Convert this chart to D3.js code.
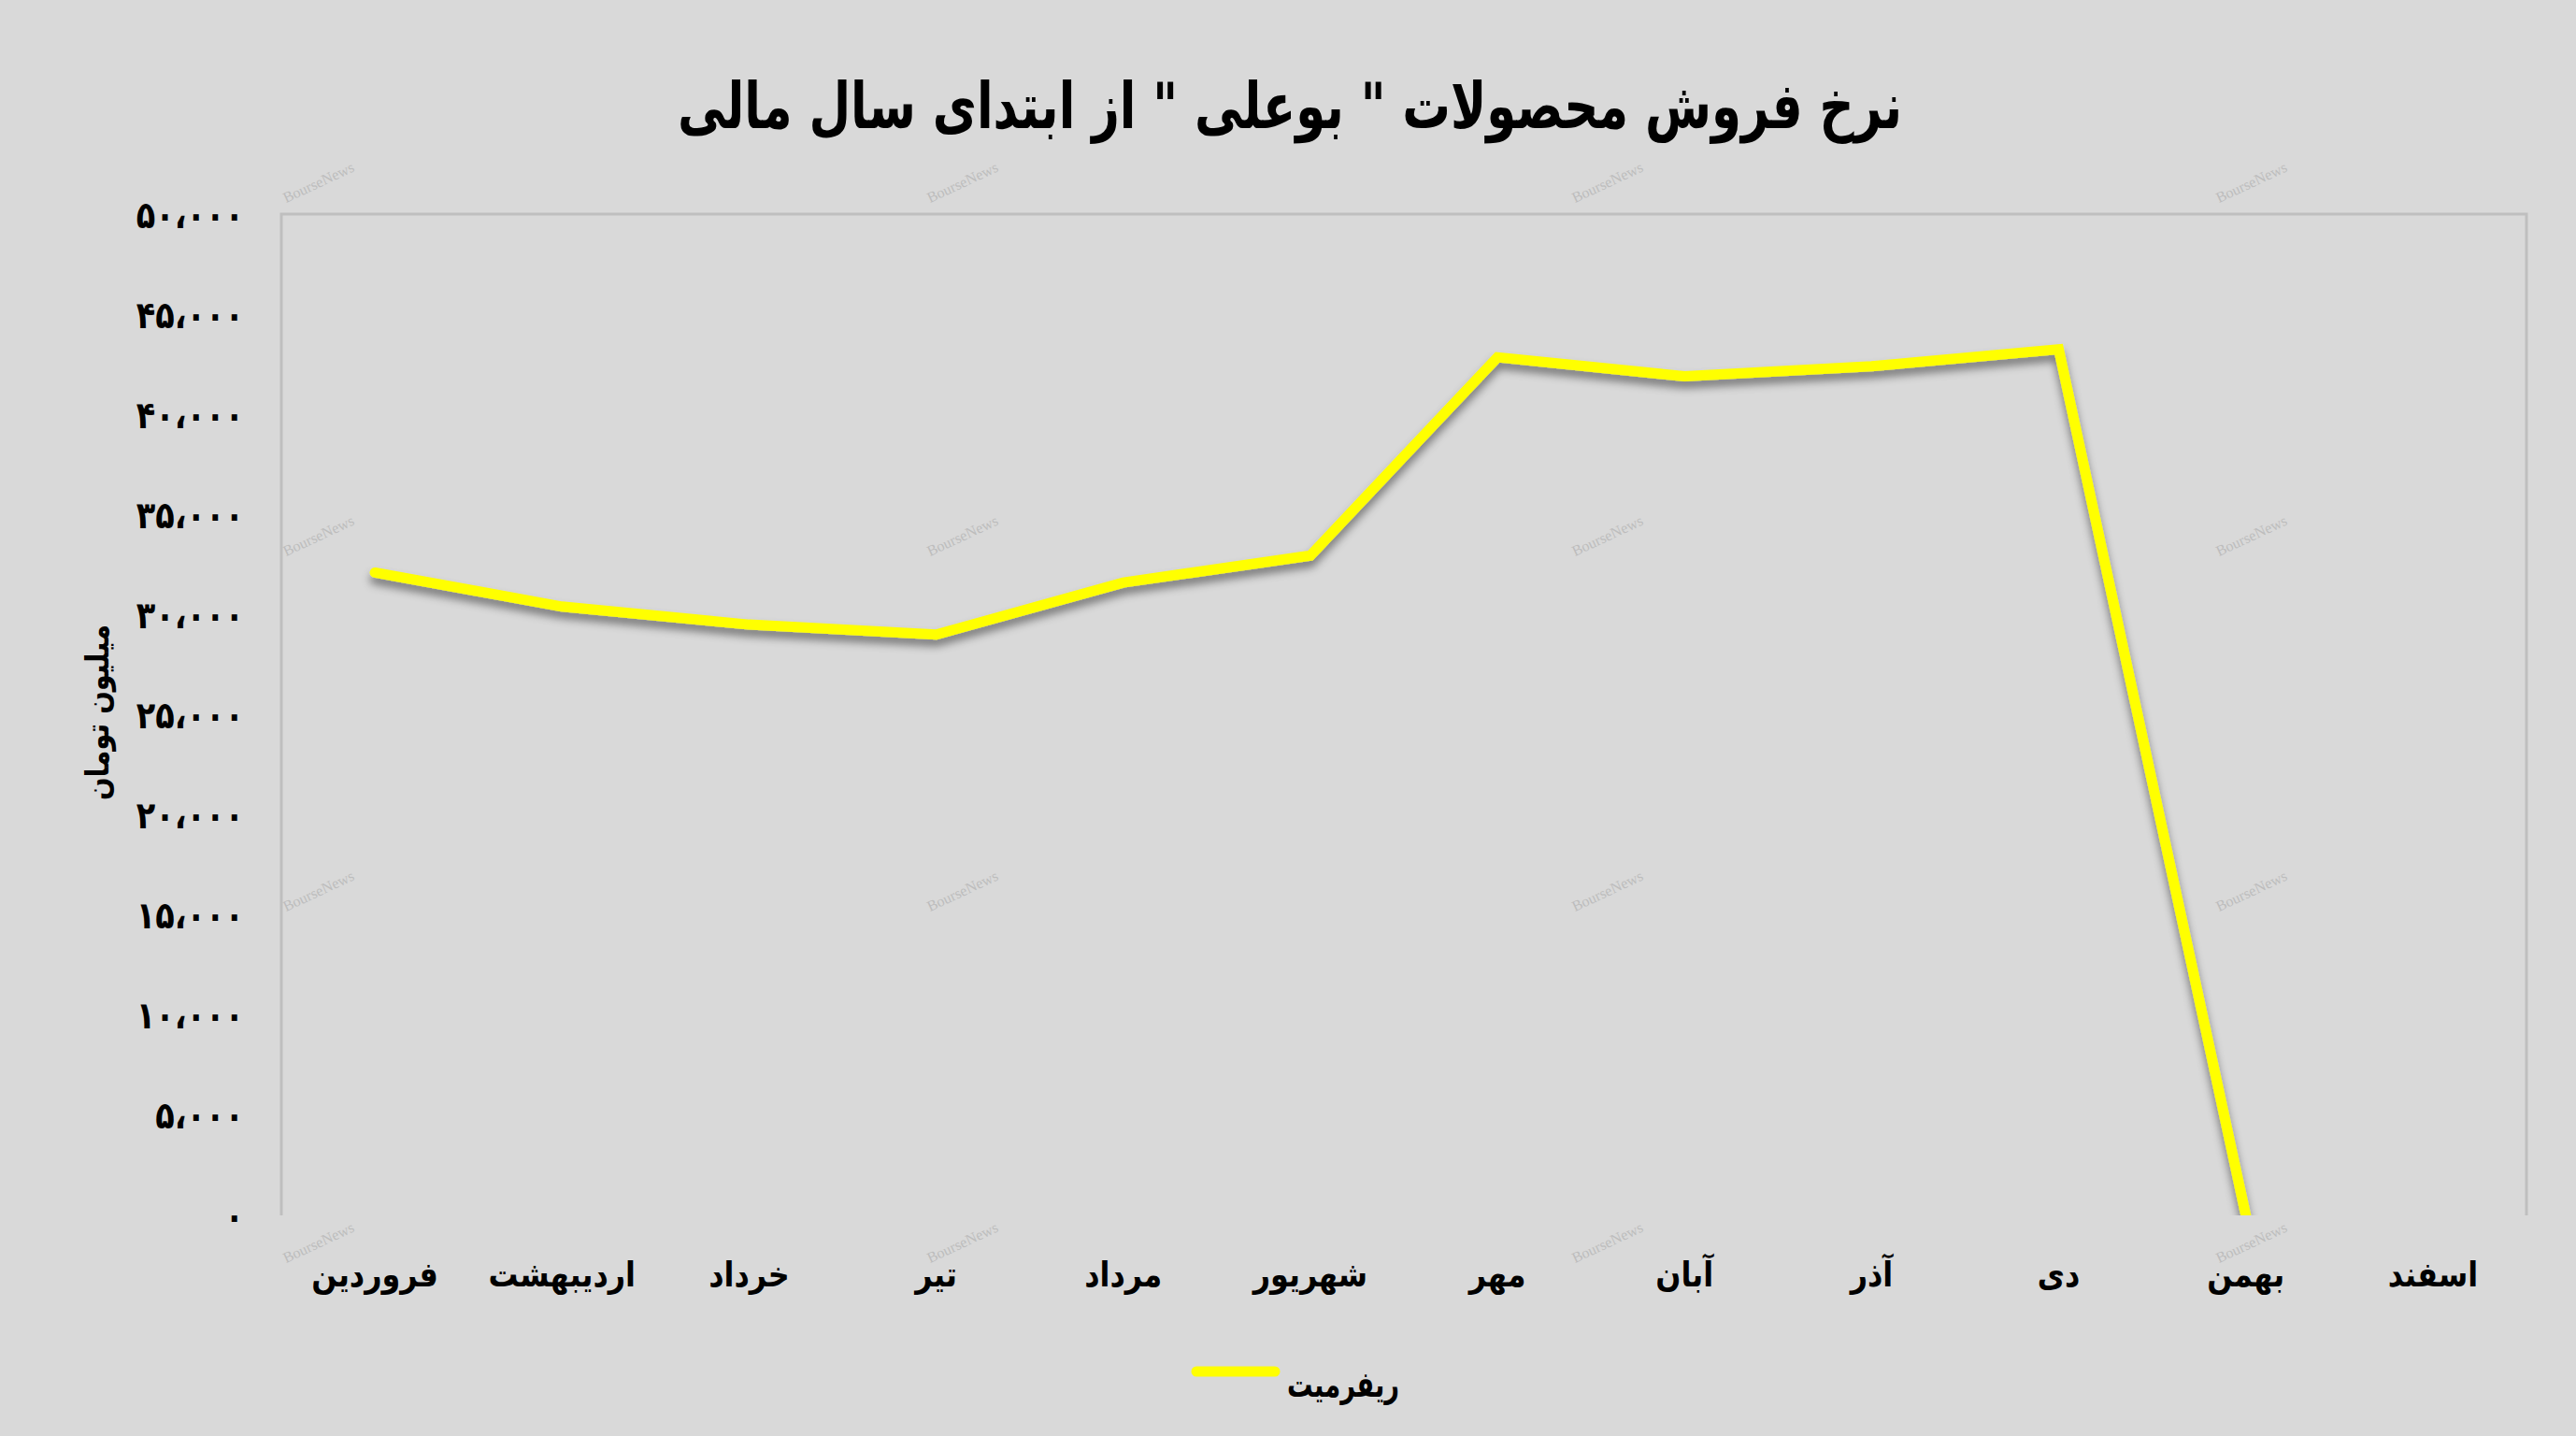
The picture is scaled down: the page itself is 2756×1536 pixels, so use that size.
<!DOCTYPE html>
<html>
<head>
<meta charset="utf-8">
<script src="https://cdn.jsdelivr.net/npm/d3@7"></script>
<style>
  html, body { margin: 0; padding: 0; background: #d9d9d9; }
  svg { display: block; }
  text { font-family: "DejaVu Sans", "Noto Sans", sans-serif; font-weight: bold; fill: #000; }
</style>
</head>
<body>
<script>
// ---- data ----
const months = ["فروردین","اردیبهشت","خرداد","تیر","مرداد","شهریور","مهر","آبان","آذر","دی","بهمن","اسفند"];
const refinitValues = [32100, 30400, 29500, 29000, 31600, 32950, 42850, 41900, 42400, 43250, 0, null];
const yTicks = [0,5000,10000,15000,20000,25000,30000,35000,40000,45000,50000];
const chartTitle = "نرخ فروش محصولات \" بوعلی \" از ابتدای سال مالی";
const yAxisTitle = "میلیون تومان";
const seriesName = "ریفرمیت";
const watermark = "BourseNews";

// ---- layout ----
const W = 2756, H = 1536;
const plot = { left: 301, right: 2703, top: 229, bottom: 1300 };

const svg = d3.select("body").append("svg").attr("width", W).attr("height", H);
svg.append("rect").attr("width", W).attr("height", H).attr("fill", "#d9d9d9");

const defs = svg.append("defs");
const f = defs.append("filter").attr("id", "shadow").attr("x", "-10%").attr("y", "-10%").attr("width", "120%").attr("height", "130%");
f.append("feDropShadow").attr("dx", 0).attr("dy", 7).attr("stdDeviation", 5).attr("flood-color", "#000").attr("flood-opacity", 0.45);
defs.append("clipPath").attr("id", "plotclip").append("rect")
  .attr("x", plot.left).attr("y", plot.top - 40).attr("width", plot.right - plot.left).attr("height", plot.bottom - plot.top + 40);

const x = d3.scaleBand().domain(months).range([plot.left, plot.right]).padding(0);
const y = d3.scaleLinear().domain([0, 50000]).range([plot.bottom, plot.top]);

const toFa = s => s.replace(/[0-9]/g, d => "۰۱۲۳۴۵۶۷۸۹"[+d]).replace(/,/g, "،");
const fmt = v => toFa(d3.format(",")(v));

// watermarks
const wmX = [343, 1032, 1722, 2411];
const wmY = [200, 578, 958, 1334];
wmY.forEach(wy => wmX.forEach(wx => {
  svg.append("text").attr("x", wx).attr("y", wy)
    .attr("transform", `rotate(-25,${wx},${wy})`)
    .attr("text-anchor", "middle")
    .style("font-family", "Liberation Serif, serif").style("font-weight", "normal").style("font-size", "16px")
    .style("fill", "#bdbdbd").text(watermark);
}));

// plot frame (left, top, right)
const frame = svg.append("g").attr("stroke", "#bfbfbf").attr("stroke-width", 3).attr("fill", "none");
frame.append("path").attr("d", `M${plot.left},${plot.bottom}V${plot.top}H${plot.right}V${plot.bottom}`);

// y axis (labels only)
const yAxis = d3.axisLeft(y).tickValues(yTicks).tickFormat(fmt).tickSize(0).tickPadding(0);
const yg = svg.append("g").attr("transform", `translate(${plot.left - 40},0)`).call(yAxis);
yg.select(".domain").remove();
yg.selectAll("text").style("font-size", "40px").style("font-family", "DejaVu Sans").style("font-weight", "bold")
  .attr("dy", "0.35em").attr("fill", "#000")
  .each(function() {
    const L = this.getComputedTextLength();
    d3.select(this).attr("textLength", L * 0.84).attr("lengthAdjust", "spacingAndGlyphs");
  });

// x axis labels
const xAxis = d3.axisBottom(x).tickSize(0).tickPadding(0);
const xg = svg.append("g").attr("transform", `translate(0,${plot.bottom + 50})`).call(xAxis);
xg.select(".domain").remove();
xg.selectAll("text").style("font-size", "37px").style("font-family", "DejaVu Sans").style("font-weight", "bold")
  .attr("dy", "0.71em").attr("fill", "#000").attr("direction", "rtl")
  .each(function() {
    const L = this.getComputedTextLength();
    d3.select(this).attr("textLength", L * 0.86).attr("lengthAdjust", "spacingAndGlyphs");
  });

// line
const pts = months.map((m, i) => ({ m, v: refinitValues[i] }));
const line = d3.line().defined(d => d.v !== null).x(d => x(d.m) + x.bandwidth() / 2).y(d => y(d.v));
svg.append("g").attr("clip-path", "url(#plotclip)")
  .append("path").datum(pts).attr("d", line)
  .attr("fill", "none").attr("stroke", "#ffff00").attr("stroke-width", 11)
  .attr("stroke-linejoin", "miter").attr("stroke-linecap", "round")
  .attr("filter", "url(#shadow)");

// title
const t = svg.append("text").attr("x", 1380).attr("y", 137).attr("text-anchor", "middle").attr("direction", "rtl")
  .style("font-size", "68px").text(chartTitle);
const tl = t.node().getComputedTextLength();
if (tl > 1310) t.attr("textLength", 1310).attr("lengthAdjust", "spacingAndGlyphs");

// y axis title
svg.append("text").attr("transform", `translate(116,762) rotate(-90)`).attr("text-anchor", "middle").attr("direction", "rtl")
  .style("font-size", "34px").attr("textLength", 188).attr("lengthAdjust", "spacingAndGlyphs").text(yAxisTitle);

// legend
svg.append("line").attr("x1", 1280).attr("x2", 1364).attr("y1", 1467).attr("y2", 1467)
  .attr("stroke", "#ffff00").attr("stroke-width", 11).attr("stroke-linecap", "round");
svg.append("text").attr("x", 1497).attr("y", 1494).attr("text-anchor", "start").attr("direction", "rtl")
  .style("font-size", "38px").attr("textLength", 120).attr("lengthAdjust", "spacingAndGlyphs").text(seriesName);
</script>
</body>
</html>
